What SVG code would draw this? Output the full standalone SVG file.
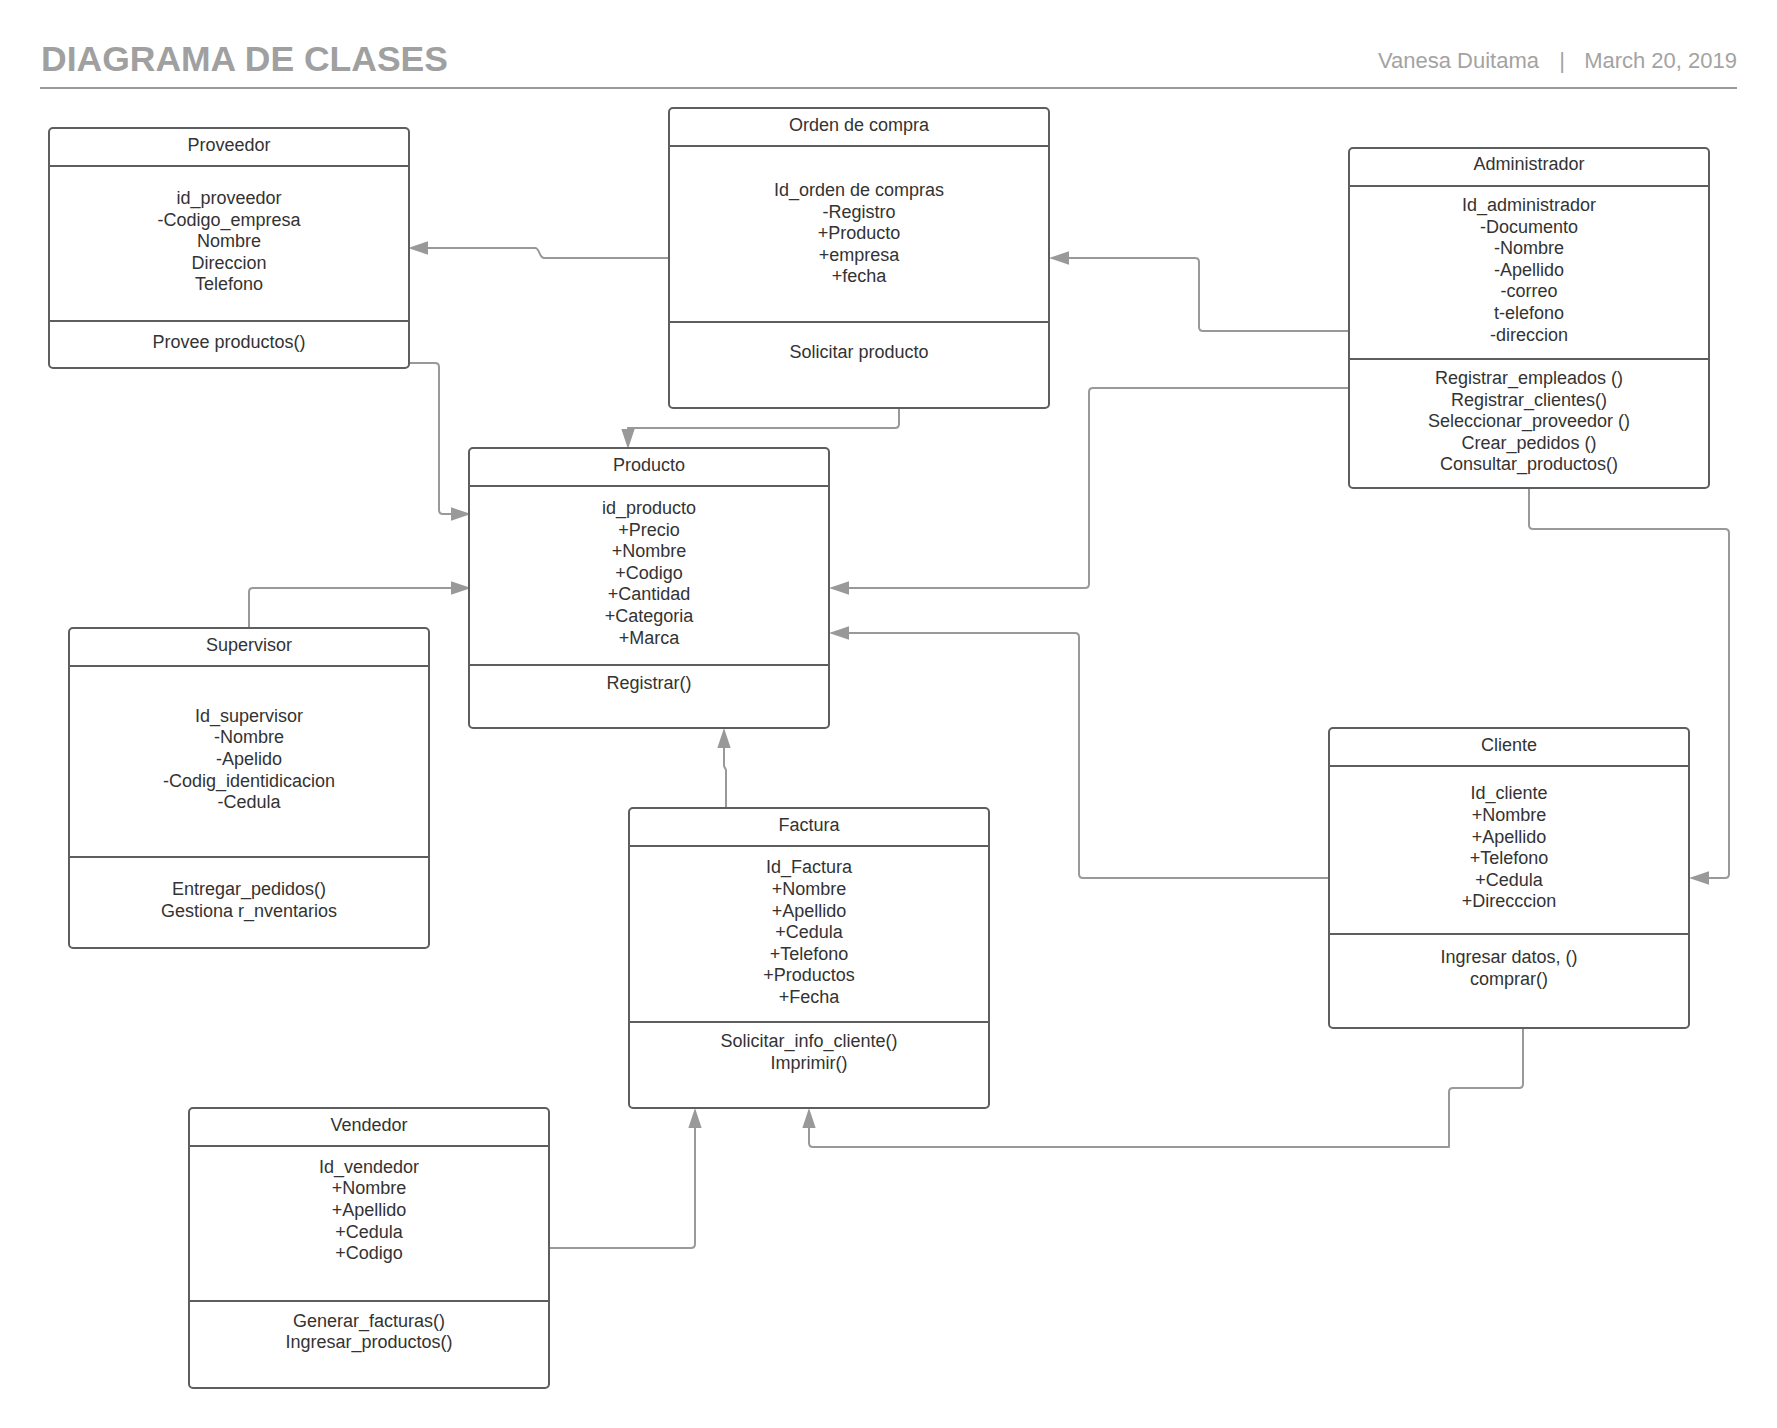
<svg xmlns="http://www.w3.org/2000/svg" width="1777" height="1428" viewBox="0 0 1777 1428">
<style>
.box{fill:#fff;stroke:#5e5e5e;stroke-width:2}
.div{stroke:#5e5e5e;stroke-width:2}
.t{font-family:"Liberation Sans",Arial,sans-serif;font-size:18px;fill:#333;text-anchor:middle}
.c{fill:none;stroke:#999;stroke-width:2;stroke-linejoin:round}
.h{font-family:"Liberation Sans",Arial,sans-serif;font-size:22px;fill:#a3a3a3}
</style>
<defs>
<marker id="arr" markerUnits="userSpaceOnUse" markerWidth="20" markerHeight="14" refX="0" refY="6" orient="auto" viewBox="0 0 18 12">
<path d="M0,0 L18,6 L0,12 z" fill="#999"/>
</marker>
</defs>
<rect width="1777" height="1428" fill="#fff"/>
<g id="header">
<text x="41" y="71" font-family="'Liberation Sans',Arial,sans-serif" font-size="35.5" font-weight="bold" fill="#a0a0a0">DIAGRAMA DE CLASES</text>
<text class="h" x="1539" y="68" text-anchor="end">Vanesa Duitama</text>
<text class="h" x="1562" y="68" text-anchor="middle">|</text>
<text class="h" x="1737" y="68" text-anchor="end">March 20, 2019</text>
<line x1="40" y1="88" x2="1737" y2="88" stroke="#999" stroke-width="2"/>
</g>
<g id="connectors">
<path class="c" marker-end="url(#arr)" d="M669,258 H544 C539,258 540,248 535,248 H428"/>
<path class="c" marker-end="url(#arr)" d="M1349,331 H1203 Q1199,331 1199,327 V262 Q1199,258 1195,258 H1069"/>
<path class="c" marker-end="url(#arr)" d="M899,408 V424 Q899,428 895,428 H628 V429"/>
<path class="c" marker-end="url(#arr)" d="M409,363 H435 Q439,363 439,367 V510 Q439,514 443,514 H451"/>
<path class="c" marker-end="url(#arr)" d="M249,628 V592 Q249,588 253,588 H451"/>
<path class="c" marker-end="url(#arr)" d="M1349,388 H1093 Q1089,388 1089,392 V584 Q1089,588 1085,588 H849"/>
<path class="c" marker-end="url(#arr)" d="M1329,878 H1083 Q1079,878 1079,874 V637 Q1079,633 1075,633 H849"/>
<path class="c" marker-end="url(#arr)" d="M726,808 V770 L724,766 V748"/>
<path class="c" marker-end="url(#arr)" d="M1529,488 V525 Q1529,529 1533,529 H1725 Q1729,529 1729,533 V874 Q1729,878 1725,878 H1709"/>
<path class="c" marker-end="url(#arr)" d="M1523,1028 V1084 Q1523,1088 1519,1088 H1453 Q1449,1088 1449,1092 V1147 H813 Q809,1147 809,1143 V1128"/>
<path class="c" marker-end="url(#arr)" d="M549,1248 H691 Q695,1248 695,1244 V1128"/>
</g>
<g id="proveedor">
<rect class="box" x="49" y="128" width="360" height="240" rx="4"/>
<line class="div" x1="49" y1="166" x2="409" y2="166"/>
<line class="div" x1="49" y1="321" x2="409" y2="321"/>
<text class="t" x="229" y="151">Proveedor</text>
<text class="t" x="229" y="204">id_proveedor</text>
<text class="t" x="229" y="225.6">-Codigo_empresa</text>
<text class="t" x="229" y="247.2">Nombre</text>
<text class="t" x="229" y="268.8">Direccion</text>
<text class="t" x="229" y="290.4">Telefono</text>
<text class="t" x="229" y="348">Provee productos()</text>
</g>
<g id="orden-de-compra">
<rect class="box" x="669" y="108" width="380" height="300" rx="4"/>
<line class="div" x1="669" y1="146" x2="1049" y2="146"/>
<line class="div" x1="669" y1="322" x2="1049" y2="322"/>
<text class="t" x="859" y="131">Orden de compra</text>
<text class="t" x="859" y="196">Id_orden de compras</text>
<text class="t" x="859" y="217.6">-Registro</text>
<text class="t" x="859" y="239.2">+Producto</text>
<text class="t" x="859" y="260.8">+empresa</text>
<text class="t" x="859" y="282.4">+fecha</text>
<text class="t" x="859" y="358">Solicitar producto</text>
</g>
<g id="administrador">
<rect class="box" x="1349" y="148" width="360" height="340" rx="4"/>
<line class="div" x1="1349" y1="186" x2="1709" y2="186"/>
<line class="div" x1="1349" y1="359" x2="1709" y2="359"/>
<text class="t" x="1529" y="170">Administrador</text>
<text class="t" x="1529" y="211">Id_administrador</text>
<text class="t" x="1529" y="232.6">-Documento</text>
<text class="t" x="1529" y="254.2">-Nombre</text>
<text class="t" x="1529" y="275.8">-Apellido</text>
<text class="t" x="1529" y="297.4">-correo</text>
<text class="t" x="1529" y="319">t-elefono</text>
<text class="t" x="1529" y="340.6">-direccion</text>
<text class="t" x="1529" y="384">Registrar_empleados ()</text>
<text class="t" x="1529" y="405.6">Registrar_clientes()</text>
<text class="t" x="1529" y="427.2">Seleccionar_proveedor ()</text>
<text class="t" x="1529" y="448.8">Crear_pedidos ()</text>
<text class="t" x="1529" y="470.4">Consultar_productos()</text>
</g>
<g id="producto">
<rect class="box" x="469" y="448" width="360" height="280" rx="4"/>
<line class="div" x1="469" y1="486" x2="829" y2="486"/>
<line class="div" x1="469" y1="665" x2="829" y2="665"/>
<text class="t" x="649" y="471">Producto</text>
<text class="t" x="649" y="514">id_producto</text>
<text class="t" x="649" y="535.6">+Precio</text>
<text class="t" x="649" y="557.2">+Nombre</text>
<text class="t" x="649" y="578.8">+Codigo</text>
<text class="t" x="649" y="600.4">+Cantidad</text>
<text class="t" x="649" y="622">+Categoria</text>
<text class="t" x="649" y="643.6">+Marca</text>
<text class="t" x="649" y="689">Registrar()</text>
</g>
<g id="supervisor">
<rect class="box" x="69" y="628" width="360" height="320" rx="4"/>
<line class="div" x1="69" y1="666" x2="429" y2="666"/>
<line class="div" x1="69" y1="857" x2="429" y2="857"/>
<text class="t" x="249" y="651">Supervisor</text>
<text class="t" x="249" y="721.7">Id_supervisor</text>
<text class="t" x="249" y="743.3">-Nombre</text>
<text class="t" x="249" y="764.9">-Apelido</text>
<text class="t" x="249" y="786.5">-Codig_identidicacion</text>
<text class="t" x="249" y="808.1">-Cedula</text>
<text class="t" x="249" y="895">Entregar_pedidos()</text>
<text class="t" x="249" y="916.6">Gestiona r_nventarios</text>
</g>
<g id="factura">
<rect class="box" x="629" y="808" width="360" height="300" rx="4"/>
<line class="div" x1="629" y1="846" x2="989" y2="846"/>
<line class="div" x1="629" y1="1022" x2="989" y2="1022"/>
<text class="t" x="809" y="831">Factura</text>
<text class="t" x="809" y="873.3">Id_Factura</text>
<text class="t" x="809" y="894.9">+Nombre</text>
<text class="t" x="809" y="916.5">+Apellido</text>
<text class="t" x="809" y="938.1">+Cedula</text>
<text class="t" x="809" y="959.7">+Telefono</text>
<text class="t" x="809" y="981.3">+Productos</text>
<text class="t" x="809" y="1002.9">+Fecha</text>
<text class="t" x="809" y="1047.3">Solicitar_info_cliente()</text>
<text class="t" x="809" y="1068.9">Imprimir()</text>
</g>
<g id="cliente">
<rect class="box" x="1329" y="728" width="360" height="300" rx="4"/>
<line class="div" x1="1329" y1="766" x2="1689" y2="766"/>
<line class="div" x1="1329" y1="934" x2="1689" y2="934"/>
<text class="t" x="1509" y="751">Cliente</text>
<text class="t" x="1509" y="799.3">Id_cliente</text>
<text class="t" x="1509" y="820.9">+Nombre</text>
<text class="t" x="1509" y="842.5">+Apellido</text>
<text class="t" x="1509" y="864.1">+Telefono</text>
<text class="t" x="1509" y="885.7">+Cedula</text>
<text class="t" x="1509" y="907.3">+Direcccion</text>
<text class="t" x="1509" y="963.3">Ingresar datos, ()</text>
<text class="t" x="1509" y="984.9">comprar()</text>
</g>
<g id="vendedor">
<rect class="box" x="189" y="1108" width="360" height="280" rx="4"/>
<line class="div" x1="189" y1="1146" x2="549" y2="1146"/>
<line class="div" x1="189" y1="1301" x2="549" y2="1301"/>
<text class="t" x="369" y="1131">Vendedor</text>
<text class="t" x="369" y="1172.7">Id_vendedor</text>
<text class="t" x="369" y="1194.3">+Nombre</text>
<text class="t" x="369" y="1215.9">+Apellido</text>
<text class="t" x="369" y="1237.5">+Cedula</text>
<text class="t" x="369" y="1259.1">+Codigo</text>
<text class="t" x="369" y="1326.7">Generar_facturas()</text>
<text class="t" x="369" y="1348.3">Ingresar_productos()</text>
</g>
</svg>
